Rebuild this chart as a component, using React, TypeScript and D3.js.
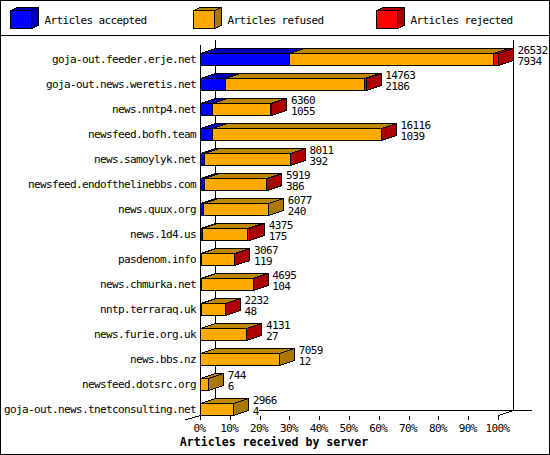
import * as d3 from 'd3'

const servers = [
  'goja-out.feeder.erje.net', 'goja-out.news.weretis.net', 'news.nntp4.net', 'newsfeed.bofh.team',
  'news.samoylyk.net', 'newsfeed.endofthelinebbs.com', 'news.quux.org', 'news.1d4.us', 'pasdenom.info',
  'news.chmurka.net', 'nntp.terraraq.uk', 'news.furie.org.uk', 'news.bbs.nz', 'newsfeed.dotsrc.org',
  'goja-out.news.tnetconsulting.net',
]
const received = [26532, 14763, 6360, 16116, 8011, 5919, 6077, 4375, 3067, 4695, 2232, 4131, 7059, 744, 2966]
const accepted = [7934, 2186, 1055, 1039, 392, 386, 240, 175, 119, 104, 48, 27, 12, 6, 4]
const rejected = [445, 180, 110, 30, 30, 30, 0, 200, 20, 20, 20, 10, 0, 0, 0]
const percentTicks = [0, 10, 20, 30, 40, 50, 60, 70, 80, 90, 100]
const legendItems = ['Articles accepted', 'Articles refused', 'Articles rejected']

const BLUE = '#0000ff'
const ORANGE = '#ffaa00'
const RED = '#ff0000'
const TOP: Record<string, string> = { [BLUE]: '#0000bb', [ORANGE]: '#bb8800', [RED]: '#bb0000' }
const SIDE: Record<string, string> = { [BLUE]: '#0000aa', [ORANGE]: '#aa7700', [RED]: '#aa0000' }
const legendColors = [BLUE, ORANGE, RED]

// bitmap font look: slightly tall glyphs squeezed back to a 6px cell
const textStyle = { fontFamily: '"DejaVu Sans Mono", monospace', fontSize: 11, letterSpacing: '-0.62px' }

interface BoxProps {
  x0: number
  x1: number
  y0: number
  y1: number
  fill: string
  cap: boolean
  dx?: number
  dy?: number
}

function Box({ x0, x1, y0, y1, fill, cap, dx = 15, dy = 5 }: BoxProps) {
  const top = `${x0},${y0} ${x0 + dx},${y0 - dy} ${x1 + dx},${y0 - dy} ${x1},${y0}`
  const side = `${x1},${y0} ${x1 + dx},${y0 - dy} ${x1 + dx},${y1 - dy} ${x1},${y1}`
  return (
    <g stroke="#000">
      <polygon points={top} fill={TOP[fill]} />
      {cap && <polygon points={side} fill={SIDE[fill]} />}
      <rect x={x0} y={y0} width={x1 - x0} height={y1 - y0} fill={fill} />
    </g>
  )
}

export default function App() {
  const x = d3.scaleLinear().domain([0, d3.max(received) as number]).range([200.5, 498.5])
  const pct = d3.scaleLinear().domain([0, 100]).range([200.5, 498.5])
  const y = d3.scaleBand<string>().domain(servers).range([53, 428]).paddingInner(0)
  const barH = 12

  return (
    <svg width={550} height={455} shapeRendering="crispEdges" style={{ display: 'block', position: 'absolute', left: 0, top: 0, background: '#fff' }}>
      <rect x={0.5} y={0.5} width={549} height={454} fill="#fff" stroke="#000" />
      <line x1={0} x2={550} y1={35.5} y2={35.5} stroke="#000" />

      {legendItems.map((label, i) => {
        const lx = [10.5, 193.5, 376.5][i]
        return (
          <g key={label}>
            <Box x0={lx} x1={lx + 21} y0={10.5} y1={28.5} fill={legendColors[i]} cap dx={7} dy={3} />
            <text x={lx + 34} y={24} style={textStyle} fill="#000">{label}</text>
          </g>
        )
      })}

      {/* back walls */}
      <line x1={215.5} x2={215.5} y1={40} y2={411} stroke="#000" />
      <line x1={513.5} x2={513.5} y1={40} y2={411} stroke="#000" />
      <line x1={259} x2={532} y1={410.5} y2={410.5} stroke="#000" />
      <line x1={185} y1={420} x2={pct(0)} y2={415.5} stroke="#000" />
      <line x1={pct(100)} y1={415.5} x2={513.5} y2={410.5} stroke="#000" />

      {servers.map((name, i) => {
        const y0 = (y(name) as number) + 0.5
        const y1 = y0 + barH
        const a = x(accepted[i])
        const r = x(received[i] - rejected[i])
        const end = x(received[i])
        const segments = [
          { x0: x(0), x1: a, fill: BLUE },
          { x0: a, x1: r, fill: ORANGE },
          { x0: r, x1: end, fill: RED },
        ].filter(s => s.x1 - s.x0 > 0.1)
        return (
          <g key={name}>
            {segments.map((s, j) => (
              <Box key={j} x0={s.x0} x1={s.x1} y0={y0} y1={y1} fill={s.fill} cap={j === segments.length - 1} />
            ))}
            <text x={196} y={y0 + 9.5} textAnchor="end" style={textStyle} fill="#000">{name}</text>
            <text x={end + 19} y={y0 + 0.5} style={textStyle} fill="#000">{received[i]}</text>
            <text x={end + 19} y={y0 + 11.5} style={textStyle} fill="#000">{accepted[i]}</text>
          </g>
        )
      })}

      {/* front axis, drawn last so it sits on the bars */}
      <line x1={200.5} x2={200.5} y1={45} y2={416} stroke="#000" />
      {percentTicks.map(t => (
        <g key={t}>
          <line x1={pct(t)} x2={pct(t)} y1={416} y2={420} stroke="#000" />
          <text x={pct(t) - 1} y={432} textAnchor="middle" style={textStyle} fill="#000">{t}%</text>
        </g>
      ))}
      <text x={274} y={446} textAnchor="middle" fontFamily='"DejaVu Sans Mono", monospace' fontSize={11.6} fontWeight="bold" fill="#000">Articles received by server</text>
    </svg>
  )
}
